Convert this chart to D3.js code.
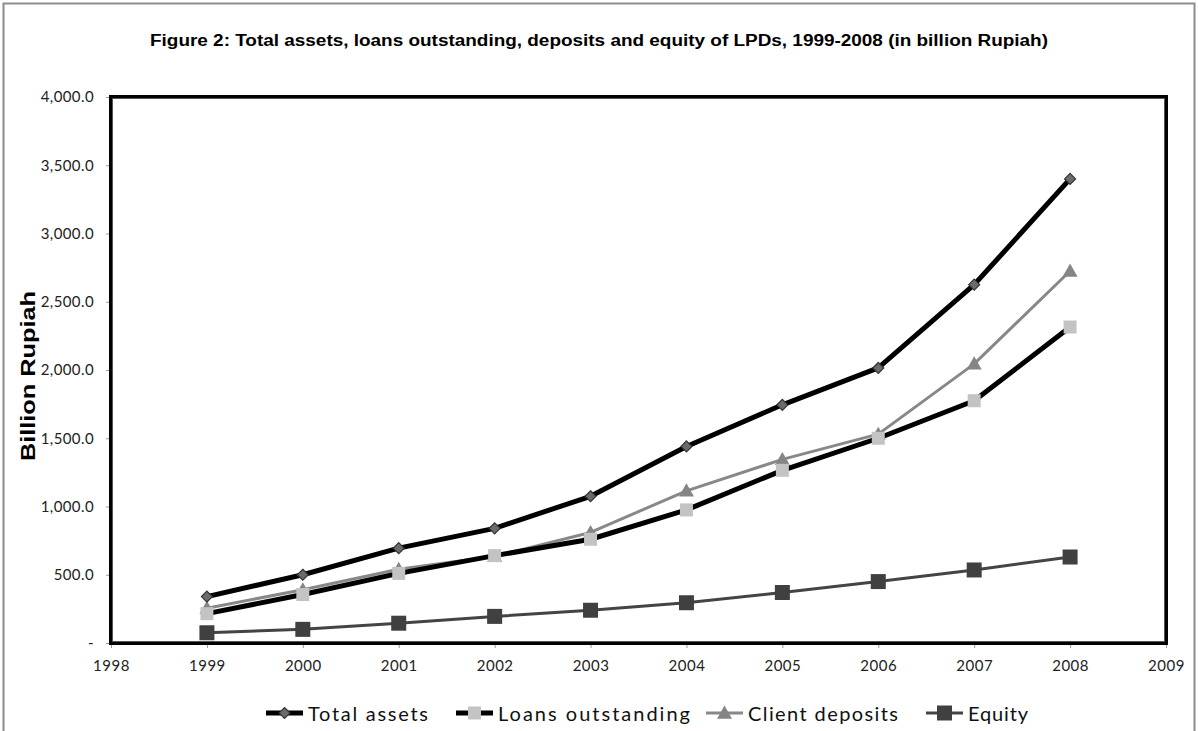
<!DOCTYPE html>
<html>
<head>
<meta charset="utf-8">
<script src="https://cdn.jsdelivr.net/npm/d3@7"></script>
<style>
  html, body { margin: 0; padding: 0; background: #fff; }
  svg { display: block; }
</style>
</head>
<body>
<svg id="chart" width="1198" height="731"></svg>
<script>
// LPD balance sheet totals, billion Rupiah
const years = [1999, 2000, 2001, 2002, 2003, 2004, 2005, 2006, 2007, 2008];
const totalAssets = [340, 500, 695, 840, 1075, 1440, 1745, 2015, 2625, 3400];
const loansOutstanding = [215, 355, 510, 640, 760, 975, 1265, 1500, 1775, 2315];
const clientDeposits = [255, 390, 540, 635, 810, 1115, 1345, 1530, 2045, 2725];
const equity = [75, 100, 145, 195, 240, 295, 370, 450, 535, 630];

const xTicks = [1998, 1999, 2000, 2001, 2002, 2003, 2004, 2005, 2006, 2007, 2008, 2009];
const yTicks = [0, 500, 1000, 1500, 2000, 2500, 3000, 3500, 4000];

const seriesNames = ["Total assets", "Loans outstanding", "Client deposits", "Equity"];

const svg = d3.select("#chart");
const W = 1198, H = 731;

// outer chart border
svg.append("rect")
  .attr("x", 3.5).attr("y", 3.5)
  .attr("width", W - 7).attr("height", H + 20)
  .attr("fill", "none").attr("stroke", "#8c8c8c").attr("stroke-width", 2);

// title
svg.append("text")
  .attr("x", 599).attr("y", 46)
  .attr("text-anchor", "middle")
  .attr("font-family", "Liberation Sans, Arial, sans-serif")
  .attr("font-weight", "bold").attr("font-size", 16)
  .attr("textLength", 898).attr("lengthAdjust", "spacingAndGlyphs")
  .text("Figure 2: Total assets, loans outstanding, deposits and equity of LPDs, 1999-2008 (in billion Rupiah)");

const plot = { left: 111, right: 1166, top: 97, bottom: 643 };

const x = d3.scaleLinear().domain([1998, 2009]).range([plot.left, plot.right]);
const y = d3.scaleLinear().domain([0, 4000]).range([plot.bottom, plot.top]);

const tickFont = "Lato, 'Open Sans', sans-serif";

// y axis
const yAxis = d3.axisLeft(y)
  .tickValues(yTicks)
  .tickSize(5)
  .tickFormat(d => d === 0 ? "-" : d3.format(",.1f")(d));
const gy = svg.append("g").attr("transform", `translate(${plot.left},0)`).call(yAxis);
gy.select(".domain").remove();
gy.selectAll(".tick line").attr("stroke", "#999");
gy.selectAll(".tick text")
  .attr("x", -17)
  .attr("font-family", tickFont).attr("font-size", 15).attr("letter-spacing", 0.4).attr("fill", "#222");

// x axis
const xAxis = d3.axisBottom(x)
  .tickValues(xTicks)
  .tickSize(5)
  .tickFormat(d3.format("d"));
const gx = svg.append("g").attr("transform", `translate(0,${plot.bottom})`).call(xAxis);
gx.select(".domain").remove();
gx.selectAll(".tick line").attr("stroke", "#999");
gx.selectAll(".tick text")
  .attr("y", 17)
  .attr("font-family", tickFont).attr("font-size", 15).attr("letter-spacing", 0.5).attr("fill", "#222");

// y axis title
svg.append("text")
  .attr("transform", "translate(35,376) rotate(-90)")
  .attr("text-anchor", "middle")
  .attr("font-family", "Liberation Sans, Arial, sans-serif")
  .attr("font-weight", "bold").attr("font-size", 21)
  .attr("textLength", 170).attr("lengthAdjust", "spacingAndGlyphs")
  .text("Billion Rupiah");

// plot area frame
svg.append("rect")
  .attr("x", plot.left).attr("y", plot.top)
  .attr("width", plot.right - plot.left).attr("height", plot.bottom - plot.top)
  .attr("fill", "none").attr("stroke", "#000").attr("stroke-width", 4);
svg.append("rect")
  .attr("x", plot.left + 1.5).attr("y", plot.top + 1.5)
  .attr("width", plot.right - plot.left - 3).attr("height", plot.bottom - plot.top - 3)
  .attr("fill", "none").attr("stroke", "#555").attr("stroke-width", 1);

const styles = [
  { name: seriesNames[0], values: totalAssets, line: "#000", width: 5, marker: "diamond", fill: "#6b6b6b", stroke: "#333", size: 11 },
  { name: seriesNames[1], values: loansOutstanding, line: "#000", width: 5, marker: "square", fill: "#c3c3c3", stroke: "none", size: 13 },
  { name: seriesNames[2], values: clientDeposits, line: "#888", width: 3, marker: "triangle", fill: "#858585", stroke: "none", size: 15 },
  { name: seriesNames[3], values: equity, line: "#444", width: 3, marker: "square", fill: "#404040", stroke: "none", size: 15 }
];

function markerPath(type, s) {
  const h = s / 2;
  if (type === "diamond") return `M0,${-h}L${h},0L0,${h}L${-h},0Z`;
  if (type === "triangle") return `M0,${-h}L${h},${h * 0.75}L${-h},${h * 0.75}Z`;
  return `M${-h},${-h}H${h}V${h}H${-h}Z`;
}

const line = d3.line().x(d => x(d.year)).y(d => y(d.value));

// draw in reverse so Total assets ends up on top
[3, 2, 1, 0].forEach(i => {
  const s = styles[i];
  const pts = years.map((yr, j) => ({ year: yr, value: s.values[j] }));
  const g = svg.append("g");
  g.append("path").datum(pts)
    .attr("d", line)
    .attr("fill", "none").attr("stroke", s.line).attr("stroke-width", s.width)
    .attr("stroke-linejoin", "round");
  g.selectAll("path.m").data(pts).enter().append("path")
    .attr("class", "m")
    .attr("transform", d => `translate(${x(d.year)},${y(d.value)})`)
    .attr("d", markerPath(s.marker, s.size))
    .attr("fill", s.fill)
    .attr("stroke", s.stroke).attr("stroke-width", 1.2);
});

// legend: symbol start, text width for each entry
const legendX = [266, 456, 706, 926];
const legendTextW = [120, 192, 150, 60];
const legendY = 713;
styles.forEach((s, i) => {
  const g = svg.append("g").attr("transform", `translate(${legendX[i]},${legendY})`);
  g.append("line").attr("x1", 0).attr("x2", 37).attr("y1", 0).attr("y2", 0)
    .attr("stroke", s.line).attr("stroke-width", s.width);
  g.append("path").attr("transform", "translate(18.5,0)")
    .attr("d", markerPath(s.marker, s.size))
    .attr("fill", s.fill).attr("stroke", s.stroke).attr("stroke-width", 1.2);
  g.append("text").attr("x", 42).attr("y", 7.5)
    .attr("font-family", tickFont).attr("font-size", 20).attr("fill", "#111")
    .attr("textLength", legendTextW[i]).attr("lengthAdjust", "spacing")
    .text(s.name);
});
</script>
</body>
</html>
